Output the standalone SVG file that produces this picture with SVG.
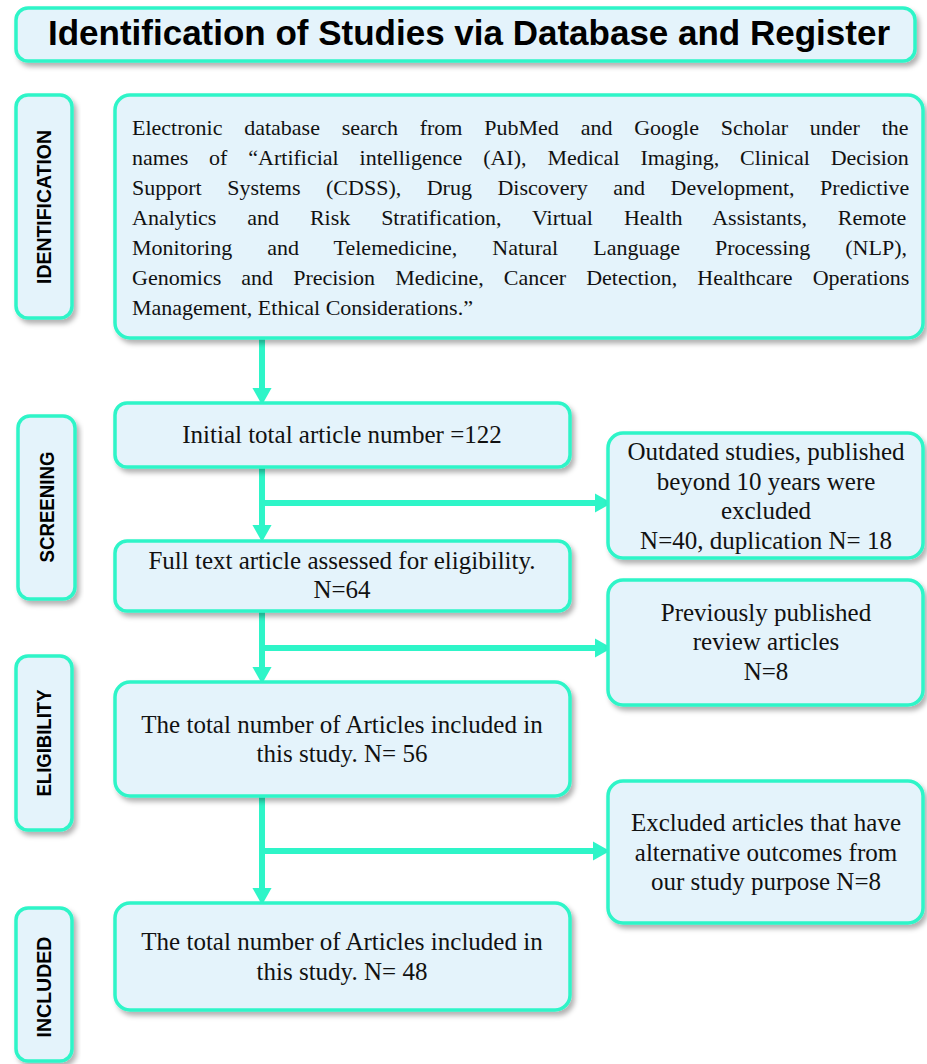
<svg xmlns="http://www.w3.org/2000/svg" width="927" height="1064" viewBox="0 0 927 1064">
<defs>
<filter id="sh" x="-10%" y="-10%" width="125%" height="130%">
<feDropShadow dx="3" dy="4" stdDeviation="2.5" flood-color="#000" flood-opacity="0.3"/>
</filter>
<marker id="ah" markerUnits="userSpaceOnUse" markerWidth="18" markerHeight="20" refX="0" refY="8.5" orient="auto" viewBox="0 0 16 17">
<path d="M0,0 L15,8.5 L0,17 z" fill="#2EF5C8"/>
</marker>
<style>
.box{fill:#E4F3FB;stroke:#2EF5C8;stroke-width:3.5;filter:url(#sh);}
.side{font-family:"Liberation Sans",Arial,sans-serif;font-weight:bold;font-size:20px;fill:#000;text-anchor:middle;}
.t{font-family:"Liberation Serif","Times New Roman",serif;font-size:25px;fill:#111;text-anchor:middle;}
.j{font-family:"Liberation Serif","Times New Roman",serif;font-size:22px;fill:#111;}
.conn{fill:none;stroke:#2EF5C8;stroke-width:6;}
</style>
</defs>
<rect width="927" height="1064" fill="#fff"/>

<g id="title">
<rect class="box" x="16" y="8" width="899" height="53" rx="12"/>
<text x="469" y="45" font-family="Liberation Sans,Arial,sans-serif" font-weight="bold" font-size="35" text-anchor="middle" textLength="842" lengthAdjust="spacingAndGlyphs">Identification of Studies via Database and Register</text>
</g>

<g id="label-identification">
<rect class="box" x="16" y="95" width="56" height="223" rx="12"/>
<text class="side" transform="translate(51,207) rotate(-90)" textLength="154" lengthAdjust="spacingAndGlyphs">IDENTIFICATION</text>
</g>
<g id="label-screening">
<rect class="box" x="18" y="416" width="57" height="183" rx="12"/>
<text class="side" transform="translate(54,507) rotate(-90)" textLength="111" lengthAdjust="spacingAndGlyphs">SCREENING</text>
</g>
<g id="label-eligibility">
<rect class="box" x="16" y="656" width="56" height="174" rx="12"/>
<text class="side" transform="translate(51,743) rotate(-90)" textLength="107" lengthAdjust="spacingAndGlyphs">ELIGIBILITY</text>
</g>
<g id="label-included">
<rect class="box" x="16" y="908" width="56" height="153" rx="12"/>
<text class="side" transform="translate(51,987) rotate(-90)" textLength="101" lengthAdjust="spacingAndGlyphs">INCLUDED</text>
</g>

<g id="connectors">
<path class="conn" d="M262,338 V388" marker-end="url(#ah)"/>
<path class="conn" d="M262,467 V525" marker-end="url(#ah)"/>
<path class="conn" d="M262,503 H595" marker-end="url(#ah)"/>
<path class="conn" d="M262,611 V667" marker-end="url(#ah)"/>
<path class="conn" d="M262,648 H595" marker-end="url(#ah)"/>
<path class="conn" d="M262,796 V888" marker-end="url(#ah)"/>
<path class="conn" d="M262,851 H593" marker-end="url(#ah)"/>
</g>

<g id="identification-box">
<rect class="box" x="115" y="95" width="808" height="243" rx="15"/>
<text class="j" x="132" y="135" word-spacing="16.3">Electronic database search from PubMed and Google Scholar under the</text>
<text class="j" x="132" y="165" word-spacing="15.4">names of “Artificial intelligence (AI), Medical Imaging, Clinical Decision</text>
<text class="j" x="132" y="195" word-spacing="20">Support Systems (CDSS), Drug Discovery and Development, Predictive</text>
<text class="j" x="132" y="225" word-spacing="25.4">Analytics and Risk Stratification, Virtual Health Assistants, Remote</text>
<text class="j" x="132" y="255" word-spacing="29.5">Monitoring and Telemedicine, Natural Language Processing (NLP),</text>
<text class="j" x="132" y="285" word-spacing="14.6">Genomics and Precision Medicine, Cancer Detection, Healthcare Operations</text>
<text class="j" x="132" y="315">Management, Ethical Considerations.”</text>
</g>

<g id="initial-box">
<rect class="box" x="115" y="403" width="455" height="64" rx="12"/>
<text class="t" x="342" y="443">Initial total article number =122</text>
</g>

<g id="fulltext-box">
<rect class="box" x="115" y="541" width="455" height="70" rx="12"/>
<text class="t" x="342" y="569">Full text article assessed for eligibility.</text>
<text class="t" x="342" y="598">N=64</text>
</g>

<g id="outdated-box">
<rect class="box" x="608" y="433" width="315" height="125" rx="15"/>
<text class="t" x="766" y="460">Outdated studies, published</text>
<text class="t" x="766" y="489.5">beyond 10 years were</text>
<text class="t" x="766" y="519">excluded</text>
<text class="t" x="766" y="548.5">N=40, duplication N= 18</text>
</g>

<g id="previous-box">
<rect class="box" x="608" y="580" width="315" height="125" rx="15"/>
<text class="t" x="766" y="620.5">Previously published</text>
<text class="t" x="766" y="650">review articles</text>
<text class="t" x="766" y="679.5">N=8</text>
</g>

<g id="eligibility-box">
<rect class="box" x="115" y="682" width="455" height="114" rx="15"/>
<text class="t" x="342" y="732.5">The total number of Articles included in</text>
<text class="t" x="342" y="762">this study. N= 56</text>
</g>

<g id="excluded-box">
<rect class="box" x="608" y="781" width="315" height="142" rx="15"/>
<text class="t" x="766" y="831">Excluded articles that have</text>
<text class="t" x="766" y="861">alternative outcomes from</text>
<text class="t" x="766" y="890">our study purpose N=8</text>
</g>

<g id="included-box">
<rect class="box" x="115" y="903" width="455" height="107" rx="15"/>
<text class="t" x="342" y="950">The total number of Articles included in</text>
<text class="t" x="342" y="980">this study. N= 48</text>
</g>
</svg>
